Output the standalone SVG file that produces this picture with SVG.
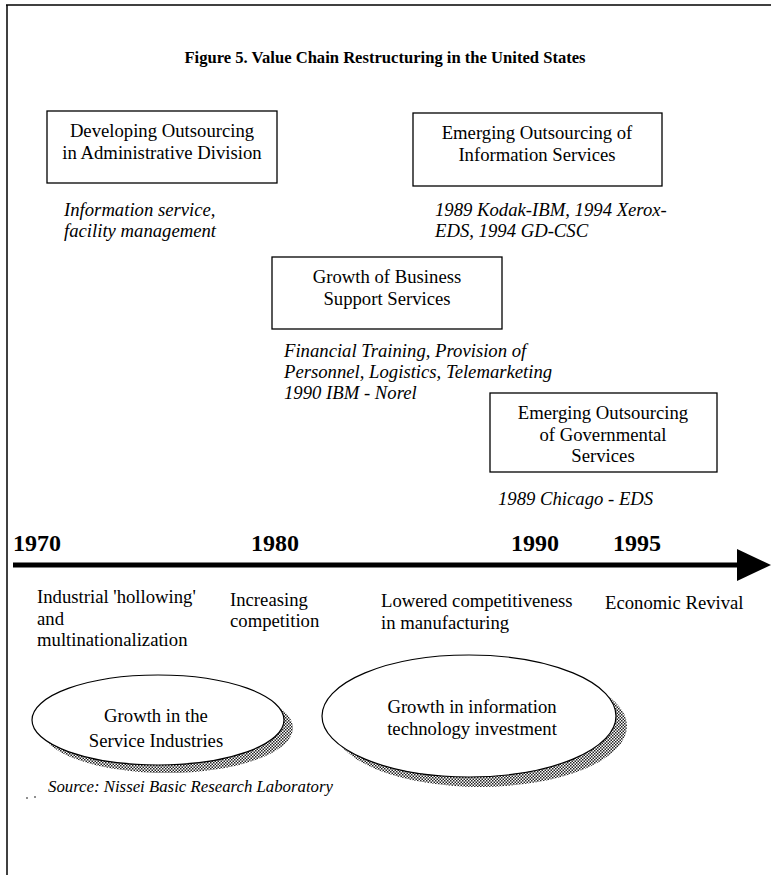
<svg xmlns="http://www.w3.org/2000/svg" width="771" height="875" viewBox="0 0 771 875">
<defs>
<style>
.t{font-family:"Liberation Serif","Times New Roman",serif;font-size:18.7px;fill:#000}
.i{font-family:"Liberation Serif","Times New Roman",serif;font-size:18.7px;font-style:italic;fill:#000}
.y{font-family:"Liberation Serif","Times New Roman",serif;font-size:24px;font-weight:bold;fill:#000}
.box{fill:#fff;stroke:#000;stroke-width:1.3}
.ell{fill:#fff;stroke:#000;stroke-width:1.2}
</style>
<pattern id="dots" width="3" height="3" patternUnits="userSpaceOnUse">
<rect width="3" height="3" fill="#fff"/>
<rect width="1.5" height="1.5" fill="#222"/>
<rect x="1.5" y="1.5" width="1.5" height="1.5" fill="#222"/>
</pattern>
</defs>
<rect width="771" height="875" fill="#fff"/>
<g id="frame" stroke="#000" stroke-width="1.5">
<line x1="6" y1="5" x2="771" y2="5"/>
<line x1="7" y1="5" x2="7" y2="875"/>
</g>
<text x="385" y="63" text-anchor="middle" font-family="'Liberation Serif','Times New Roman',serif" font-size="16.6" font-weight="bold">Figure 5. Value Chain Restructuring in the United States</text>

<g id="box-admin">
<rect class="box" x="47" y="111" width="230" height="72"/>
<text class="t" x="162" y="137" text-anchor="middle">Developing Outsourcing</text>
<text class="t" x="162" y="159" text-anchor="middle">in Administrative Division</text>
<text class="i" x="64" y="216">Information service,</text>
<text class="i" x="64" y="237">facility management</text>
</g>
<g id="box-info">
<rect class="box" x="413" y="113" width="249" height="73"/>
<text class="t" x="537" y="139" text-anchor="middle">Emerging Outsourcing of</text>
<text class="t" x="537" y="161" text-anchor="middle">Information Services</text>
<text class="i" x="435" y="216">1989 Kodak-IBM, 1994 Xerox-</text>
<text class="i" x="435" y="237">EDS, 1994 GD-CSC</text>
</g>
<g id="box-business">
<rect class="box" x="272" y="257" width="230" height="72"/>
<text class="t" x="387" y="283" text-anchor="middle">Growth of Business</text>
<text class="t" x="387" y="305" text-anchor="middle">Support Services</text>
<text class="i" x="284" y="357">Financial Training, Provision of</text>
<text class="i" x="284" y="378">Personnel, Logistics, Telemarketing</text>
<text class="i" x="284" y="399">1990 IBM - Norel</text>
</g>
<g id="box-gov">
<rect class="box" x="490" y="393" width="227" height="79"/>
<text class="t" x="603" y="419" text-anchor="middle">Emerging Outsourcing</text>
<text class="t" x="603" y="441" text-anchor="middle">of Governmental</text>
<text class="t" x="603" y="462" text-anchor="middle">Services</text>
<text class="i" x="498" y="505">1989 Chicago - EDS</text>
</g>

<g id="connectors">
<line x1="13" y1="565" x2="742" y2="565" stroke="#000" stroke-width="5"/>
<polygon points="737,549 771,565 737,581" fill="#000"/>
</g>

<g id="timeline-labels">
<text class="y" x="13" y="551">1970</text>
<text class="y" x="251" y="551">1980</text>
<text class="y" x="511" y="551">1990</text>
<text class="y" x="613" y="551">1995</text>
<text class="t" x="37" y="603">Industrial 'hollowing'</text>
<text class="t" x="37" y="625">and</text>
<text class="t" x="37" y="646">multinationalization</text>
<text class="t" x="230" y="606">Increasing</text>
<text class="t" x="230" y="627">competition</text>
<text class="t" x="381" y="607">Lowered competitiveness</text>
<text class="t" x="381" y="629">in manufacturing</text>
<text class="t" x="605" y="609">Economic Revival</text>
</g>

<g id="ellipse-service">
<ellipse cx="167" cy="728" rx="126" ry="45" fill="url(#dots)"/>
<ellipse class="ell" cx="158" cy="720" rx="126" ry="45"/>
<text class="t" x="156" y="722" text-anchor="middle">Growth in the</text>
<text class="t" x="156" y="747" text-anchor="middle">Service Industries</text>
</g>
<g id="ellipse-it">
<ellipse cx="480" cy="726" rx="147" ry="61" fill="url(#dots)"/>
<ellipse class="ell" cx="469" cy="716" rx="147" ry="61"/>
<text class="t" x="472" y="713" text-anchor="middle">Growth in information</text>
<text class="t" x="472" y="735" text-anchor="middle">technology investment</text>
</g>

<g id="source">
<circle cx="27" cy="798" r="0.8" fill="#000"/>
<circle cx="35" cy="797" r="0.8" fill="#000"/>
<text x="48" y="792" font-family="'Liberation Serif','Times New Roman',serif" font-size="16.8" font-style="italic">Source: Nissei Basic Research Laboratory</text>
</g>
</svg>
